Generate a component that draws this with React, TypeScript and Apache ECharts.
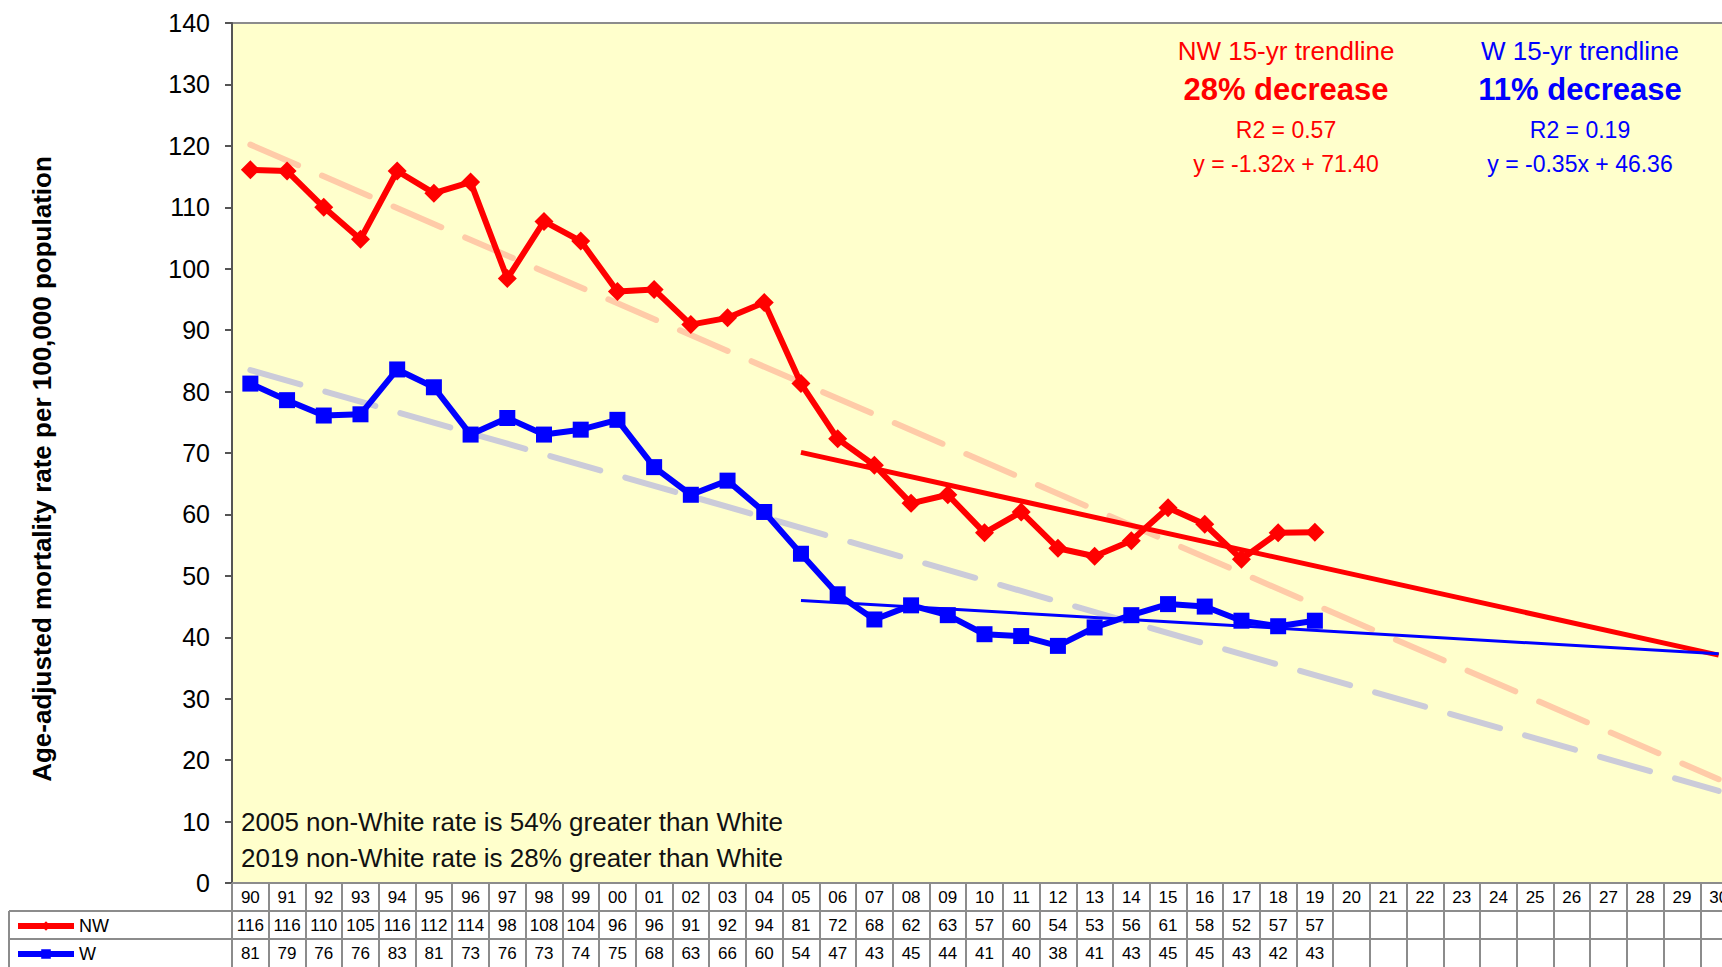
import React, { useEffect, useRef } from "react";
import * as echarts from "echarts";

const years = ["90","91","92","93","94","95","96","97","98","99","00","01","02","03","04","05","06","07","08","09","10","11","12","13","14","15","16","17","18","19","20","21","22","23","24","25","26","27","28","29","30"];

const nwRate = [116.1,115.9,110.0,104.8,115.9,112.3,114.1,98.4,107.7,104.5,96.3,96.6,90.9,92.0,94.5,81.3,72.3,68.0,61.8,63.2,57.0,60.4,54.5,53.2,55.7,61.1,58.4,52.7,57.0,57.1];
const wRate = [81.3,78.6,76.1,76.3,83.6,80.7,73.0,75.7,73.0,73.8,75.4,67.7,63.2,65.5,60.4,53.6,47.0,42.9,45.2,43.6,40.5,40.2,38.6,41.6,43.6,45.4,45.0,42.7,41.8,42.7];

const nwTable = ["116","116","110","105","116","112","114","98","108","104","96","96","91","92","94","81","72","68","62","63","57","60","54","53","56","61","58","52","57","57"];
const wTable = ["81","79","76","76","83","81","73","76","73","74","75","68","63","66","60","54","47","43","45","44","41","40","38","41","43","45","45","43","42","43"];

// trendline endpoints
const nwTrend15 = [["05", 70.1], ["30", 37.1]];
const wTrend15 = [["05", 46.0], ["30", 37.3]];
const nwTrendAll = [["90", 120.2], ["30", 16.9]];
const wTrendAll = [["90", 83.5], ["30", 15.0]];

const yTicks = { min: 0, max: 140, interval: 10 };

const yTitle = "Age-adjusted mortality rate per 100,000 population";
const nwNotes = ["NW 15-yr trendline", "28% decrease", "R2 = 0.57", "y = -1.32x + 71.40"];
const wNotes = ["W 15-yr trendline", "11% decrease", "R2 = 0.19", "y = -0.35x + 46.36"];
const bottomNotes = ["2005 non-White rate is 54% greater than White", "2019 non-White rate is 28% greater than White"];

const FONT = "'Liberation Sans', Arial, sans-serif";
const RED = "#ff0000";
const BLUE = "#0000ff";
const GRID_COLOR = "#8c8c8c";

export default function App() {
  const ref = useRef<HTMLDivElement>(null);
  useEffect(() => {
    if (!ref.current) return;
    const chart = echarts.init(ref.current, undefined, { renderer: "svg" });

    const tableAxis = (data: string[], offset: number) => ({
      type: "category",
      data,
      position: "bottom",
      offset,
      gridIndex: 0,
      boundaryGap: true,
      axisLine: { show: true, lineStyle: { color: GRID_COLOR, width: 2 } },
      axisTick: { show: true, interval: 0, length: 28, lineStyle: { color: GRID_COLOR, width: 2 } },
      axisLabel: { show: true, interval: 0, margin: 14, verticalAlign: "middle", fontSize: 17, color: "#000", fontFamily: FONT },
      splitLine: { show: false },
    });

    const notes = (arr: string[], cx: number, color: string) => [
      { type: "text", x: cx, y: 51, style: { text: arr[0], fill: color, font: `26px ${FONT}`, textAlign: "center", textVerticalAlign: "middle" } },
      { type: "text", x: cx, y: 89, style: { text: arr[1], fill: color, font: `bold 31px ${FONT}`, textAlign: "center", textVerticalAlign: "middle" } },
      { type: "text", x: cx, y: 130, style: { text: arr[2], fill: color, font: `23px ${FONT}`, textAlign: "center", textVerticalAlign: "middle" } },
      { type: "text", x: cx, y: 164, style: { text: arr[3], fill: color, font: `23px ${FONT}`, textAlign: "center", textVerticalAlign: "middle" } },
    ];

    chart.setOption({
      animation: false,
      backgroundColor: "#ffffff",
      textStyle: { fontFamily: FONT },
      grid: {
        left: 232, top: 23, right: 0, bottom: 84,
        show: true, backgroundColor: "#ffffcc", borderColor: GRID_COLOR, borderWidth: 2,
      },
      legend: {
        data: ["NW", "W"],
        orient: "vertical",
        left: 15, top: 917,
        padding: 0,
        itemWidth: 56, itemHeight: 12, itemGap: 10,
        lineStyle: { width: 6 },
        textStyle: { fontSize: 18, color: "#000", fontFamily: FONT },
      },
      xAxis: [
        tableAxis(years, 0),
        tableAxis(years.map((_, i) => nwTable[i] ?? ""), 28),
        tableAxis(years.map((_, i) => wTable[i] ?? ""), 56),
      ],
      yAxis: {
        type: "value",
        min: yTicks.min, max: yTicks.max, interval: yTicks.interval,
        axisLine: { show: true, lineStyle: { color: "#555", width: 2 } },
        axisTick: { show: true, length: 7, lineStyle: { color: "#555", width: 2 } },
        axisLabel: { fontSize: 25, color: "#000", margin: 22, fontFamily: FONT },
        splitLine: { show: false },
      },
      series: [
        {
          name: "NW trend all", type: "line", data: nwTrendAll, symbol: "none", z: 1,
          lineStyle: { color: "#ffcba8", width: 6, type: [52, 26], cap: "round" },
        },
        {
          name: "W trend all", type: "line", data: wTrendAll, symbol: "none", z: 1,
          lineStyle: { color: "#cbcbd9", width: 6, type: [52, 26], cap: "round" },
        },
        {
          name: "NW", type: "line", data: nwRate, symbol: "diamond", symbolSize: 19, z: 3,
          itemStyle: { color: RED }, lineStyle: { color: RED, width: 6 },
        },
        {
          name: "W", type: "line", data: wRate, symbol: "rect", symbolSize: 16, z: 3,
          itemStyle: { color: BLUE }, lineStyle: { color: BLUE, width: 6 },
        },
        {
          name: "NW trend 15", type: "line", data: nwTrend15, symbol: "none", z: 4,
          lineStyle: { color: RED, width: 5 },
        },
        {
          name: "W trend 15", type: "line", data: wTrend15, symbol: "none", z: 4,
          lineStyle: { color: BLUE, width: 3 },
        },
      ],
      graphic: [
        {
          type: "text", x: 42, y: 469, rotation: Math.PI / 2,
          style: { text: yTitle, fill: "#000", font: `bold 26px ${FONT}`, textAlign: "center", textVerticalAlign: "middle" },
        },
        ...notes(nwNotes, 1286, RED),
        ...notes(wNotes, 1580, BLUE),
        { type: "text", x: 241, y: 822, style: { text: bottomNotes[0], fill: "#111", font: `26px ${FONT}`, textVerticalAlign: "middle" } },
        { type: "text", x: 241, y: 858, style: { text: bottomNotes[1], fill: "#111", font: `26px ${FONT}`, textVerticalAlign: "middle" } },
        { type: "line", shape: { x1: 9, y1: 911, x2: 232, y2: 911 }, style: { stroke: GRID_COLOR, lineWidth: 2 } },
        { type: "line", shape: { x1: 9, y1: 939, x2: 232, y2: 939 }, style: { stroke: GRID_COLOR, lineWidth: 2 } },
        { type: "line", shape: { x1: 9, y1: 911, x2: 9, y2: 967 }, style: { stroke: GRID_COLOR, lineWidth: 2 } },
      ],
    });
    return () => chart.dispose();
  }, []);
  return <div ref={ref} style={{ position: "fixed", left: 0, top: 0, width: 1737, height: 967 }} />;
}
